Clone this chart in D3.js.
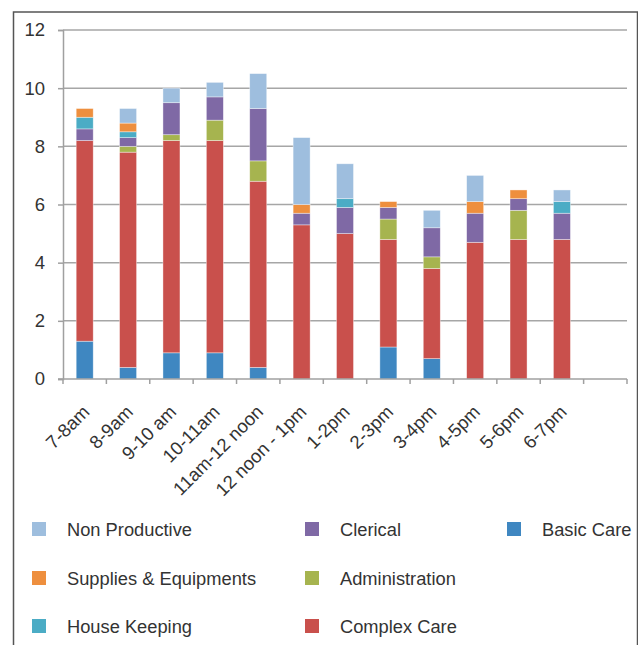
<!DOCTYPE html>
<html>
<head>
<meta charset="utf-8">
<script src="https://cdn.jsdelivr.net/npm/d3@7"></script>
<style>
  html, body { margin: 0; padding: 0; background: #fff; }
  svg { display: block; }
  text { font-family: "Liberation Sans", Arial, sans-serif; fill: #333; }
</style>
</head>
<body>
<svg id="chart" width="638" height="645"></svg>
<script>
// ---- data ----
const categories = ["7-8am", "8-9am", "9-10 am", "10-11am", "11am-12 noon", "12 noon - 1pm",
  "1-2pm", "2-3pm", "3-4pm", "4-5pm", "5-6pm", "6-7pm"];
const basicCare        = [1.3, 0.4, 0.9, 0.9, 0.4, 0,   0,   1.1, 0.7, 0,   0,   0];
const complexCare      = [6.9, 7.4, 7.3, 7.3, 6.4, 5.3, 5.0, 3.7, 3.1, 4.7, 4.8, 4.8];
const administration   = [0,   0.2, 0.2, 0.7, 0.7, 0,   0,   0.7, 0.4, 0,   1.0, 0];
const clerical         = [0.4, 0.3, 1.1, 0.8, 1.8, 0.4, 0.9, 0.4, 1.0, 1.0, 0.4, 0.9];
const houseKeeping     = [0.4, 0.2, 0,   0,   0,   0,   0.3, 0,   0,   0,   0,   0.4];
const suppliesEquip    = [0.3, 0.3, 0,   0,   0,   0.3, 0,   0.2, 0,   0.4, 0.3, 0];
const nonProductive    = [0,   0.5, 0.5, 0.5, 1.2, 2.3, 1.2, 0,   0.6, 0.9, 0,   0.4];
const yTicks = [0, 2, 4, 6, 8, 10, 12];

const seriesNames = ["Basic Care", "Complex Care", "Administration", "Clerical",
  "House Keeping", "Supplies & Equipments", "Non Productive"];
const seriesValues = [basicCare, complexCare, administration, clerical,
  houseKeeping, suppliesEquip, nonProductive];
const seriesColors = ["#3F87C1", "#C9504C", "#A6B44F", "#7F69A5", "#4BACC5", "#EE8F3E", "#9EBEDE"];
// legend order (column-major, 3 rows)
const legendOrder = ["Non Productive", "Supplies & Equipments", "House Keeping",
  "Clerical", "Administration", "Complex Care", "Basic Care"];

// ---- build table ----
const table = categories.map((c, i) => {
  const row = { cat: c };
  seriesNames.forEach((s, j) => row[s] = seriesValues[j][i]);
  return row;
});
const stacked = d3.stack().keys(seriesNames)(table);

const svg = d3.select("#chart");
const plotL = 63, plotR = 627, plotT = 30, plotB = 379;

// category slots: 12 categories + one empty slot at end
const slots = categories.concat(["__empty__"]);
const x = d3.scaleBand().domain(slots).range([plotL, plotR]).paddingInner(0.608).paddingOuter(0.304);
const y = d3.scaleLinear().domain([0, 12]).range([plotB, plotT]);
const color = d3.scaleOrdinal().domain(seriesNames).range(seriesColors);

// outer frame
svg.append("rect").attr("x", 13.5).attr("y", 12).attr("width", 624).attr("height", 700)
  .attr("fill", "none").attr("stroke", "#555").attr("stroke-width", 1.5);

// gridlines
svg.append("g").selectAll("line").data(yTicks.filter(t => t > 0)).join("line")
  .attr("x1", plotL).attr("x2", plotR)
  .attr("y1", d => y(d)).attr("y2", d => y(d))
  .attr("stroke", "#A6A6A6").attr("stroke-width", 1.5);

// y axis
const yAxis = d3.axisLeft(y).tickValues(yTicks).tickSize(5).tickPadding(13).tickFormat(d3.format("d"));
const gy = svg.append("g").attr("transform", `translate(${plotL},0)`).call(yAxis);
gy.select(".domain").attr("stroke", "#A0A0A0").attr("stroke-width", 1.5);
gy.selectAll(".tick line").attr("stroke", "#A0A0A0").attr("stroke-width", 1.5);
gy.selectAll(".tick text").attr("font-size", 18.5).attr("fill", "#333")
  .attr("font-family", "Liberation Sans, Arial, sans-serif");

// bars
const step = x.step();
const off = (step - x.bandwidth()) / 2;
svg.append("g").selectAll("g").data(stacked).join("g")
  .attr("fill", d => color(d.key))
  .selectAll("rect").data(d => d.filter(p => p[1] - p[0] > 0)).join("rect")
  .attr("x", d => x(d.data.cat))
  .attr("width", x.bandwidth())
  .attr("y", d => y(d[1]))
  .attr("height", d => y(d[0]) - y(d[1]))
  .attr("stroke", "#fff").attr("stroke-opacity", 0.55).attr("stroke-width", 0.7);

// x axis
const gx = svg.append("g");
gx.append("line").attr("x1", plotL - 5).attr("x2", plotR).attr("y1", plotB).attr("y2", plotB)
  .attr("stroke", "#A0A0A0").attr("stroke-width", 1.5);
const boundaries = slots.map(s => x(s) - off).concat([plotR]);
gx.selectAll("line.tk").data(boundaries).join("line").attr("class", "tk")
  .attr("x1", d => d).attr("x2", d => d).attr("y1", plotB).attr("y2", plotB + 5)
  .attr("stroke", "#A0A0A0").attr("stroke-width", 1.5);
gx.selectAll("text").data(categories).join("text")
  .attr("transform", d => `translate(${x(d) + x.bandwidth() / 2 + 6},${plotB + 34}) rotate(-45)`)
  .attr("text-anchor", "end")
  .attr("font-size", 18.5)
  .text(d => d);

// legend
const colX = [32, 305, 507];
const rowY = [529, 578, 626];
const lg = svg.append("g").selectAll("g").data(legendOrder).join("g")
  .attr("transform", (d, i) => `translate(${colX[Math.floor(i / 3)]},${rowY[i % 3]})`);
lg.append("rect").attr("x", 0).attr("y", -7).attr("width", 14).attr("height", 14)
  .attr("fill", d => color(d));
lg.append("text").attr("x", 35).attr("y", 7).attr("font-size", 18.3).text(d => d);
</script>
</body>
</html>
